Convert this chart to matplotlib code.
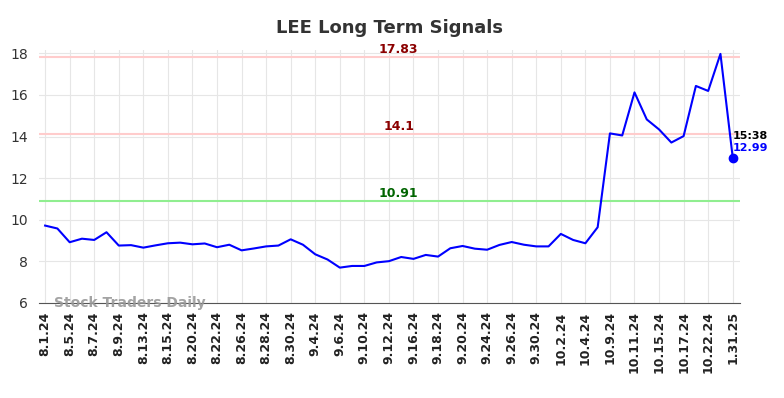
import matplotlib
matplotlib.use("Agg")
import matplotlib.pyplot as plt
import numpy as np

# closing prices, one per trading session
prices = [9.72, 9.58, 8.92, 9.09, 9.03, 9.40, 8.76, 8.78, 8.66, 8.77,
          8.87, 8.90, 8.82, 8.86, 8.68, 8.80, 8.53, 8.62, 8.72, 8.76,
          9.06, 8.80, 8.34, 8.09, 7.70, 7.78, 7.78, 7.95, 8.01, 8.21,
          8.12, 8.31, 8.23, 8.63, 8.74, 8.61, 8.56, 8.79, 8.93, 8.80,
          8.72, 8.72, 9.32, 9.03, 8.87, 9.64, 14.15, 14.05, 16.12, 14.82,
          14.34, 13.71, 14.02, 16.43, 16.19, 17.97, 12.99]

tick_labels = ["8.1.24", "8.5.24", "8.7.24", "8.9.24", "8.13.24", "8.15.24",
               "8.20.24", "8.22.24", "8.26.24", "8.28.24", "8.30.24", "9.4.24",
               "9.6.24", "9.10.24", "9.12.24", "9.16.24", "9.18.24", "9.20.24",
               "9.24.24", "9.26.24", "9.30.24", "10.2.24", "10.4.24", "10.9.24",
               "10.11.24", "10.15.24", "10.17.24", "10.22.24", "1.31.25"]

upper_res = 17.83
mid_res = 14.1
support = 10.91
last_time = "15:38"

x = np.arange(len(prices))

fig = plt.figure(figsize=(7.84, 3.98), dpi=100)
ax = fig.add_axes([0.0497, 0.2387, 0.8943, 0.6353])

ax.grid(True, color="#e6e6e6", linewidth=0.8)
ax.set_axisbelow(True)

ax.axhline(upper_res, color="#ffcccc", linewidth=1.5)
ax.axhline(mid_res, color="#ffcccc", linewidth=1.5)
ax.axhline(support, color="#90ee90", linewidth=1.5)

mid_x = (len(prices) - 1) / 2 + 0.8
ax.text(mid_x, upper_res + 0.02, str(upper_res), color="#8b0000", fontsize=9,
        fontweight="bold", ha="center", va="bottom")
ax.text(mid_x, mid_res + 0.05, str(mid_res), color="#8b0000", fontsize=9,
        fontweight="bold", ha="center", va="bottom")
ax.text(mid_x, support + 0.05, str(support), color="#006400", fontsize=9,
        fontweight="bold", ha="center", va="bottom")

ax.plot(x, prices, color="#0000ff", linewidth=1.5)
ax.plot(x[-1], prices[-1], "o", color="#0000ff", markersize=6)

ax.text(x[-1], prices[-1] + 1.05, last_time, color="black", fontsize=8,
        fontweight="bold", ha="left", va="center")
ax.text(x[-1], prices[-1] + 0.45, str(prices[-1]), color="#0000ff", fontsize=8,
        fontweight="bold", ha="left", va="center")

ax.text(0.7, 6.0, "Stock Traders Daily", color="#999999", fontsize=10,
        fontweight="bold", ha="left", va="center", alpha=0.9)

ax.set_xlim(-0.5, len(prices) - 0.4)
ax.set_ylim(6, 18.15)
ax.set_yticks([6, 8, 10, 12, 14, 16, 18])
ax.set_xticks(x[::2])
ax.set_xticklabels(tick_labels, rotation=90, fontsize=9, fontweight="bold",
                   color="#222222")
ax.tick_params(axis="y", labelsize=10, colors="#333333", length=0, pad=8)
ax.tick_params(axis="x", length=0, pad=6)

for s in ["top", "right", "left"]:
    ax.spines[s].set_visible(False)
ax.spines["bottom"].set_color("#555555")

ax.set_title("LEE Long Term Signals", fontsize=13, fontweight="bold",
             color="#333333", pad=12)

fig.savefig("out.png", dpi=100)
